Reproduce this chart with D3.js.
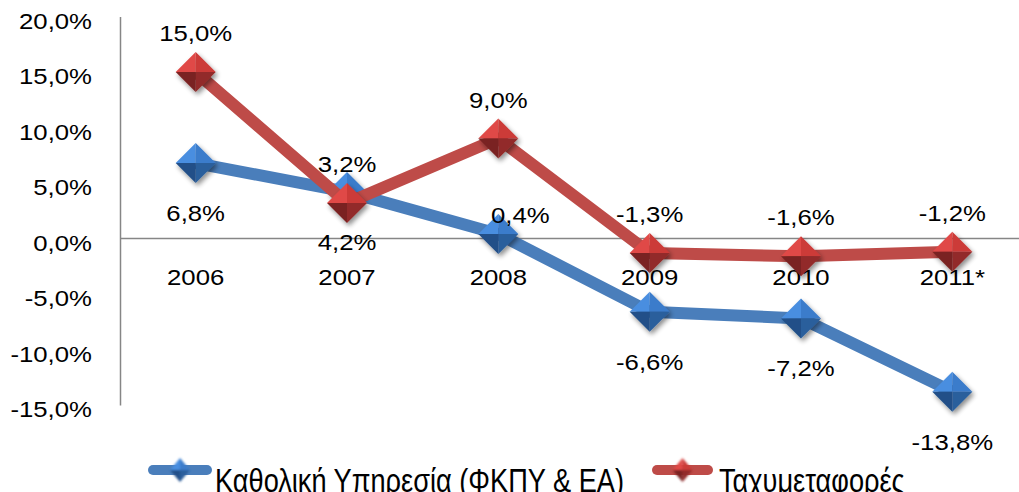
<!DOCTYPE html>
<html><head><meta charset="utf-8">
<script src="https://cdn.jsdelivr.net/npm/d3@7"></script>
<style>
html,body{margin:0;padding:0;background:#fff;}
svg{display:block;}
text{font-family:"Liberation Sans",Arial,sans-serif;fill:#000;}
</style></head>
<body>
<svg id="chart" width="1019" height="492"></svg>
<script>
const categories = ["2006","2007","2008","2009","2010","2011*"];
const seriesNames = ["Καθολική Υπηρεσία (ΦΚΠΥ & ΕΑ)","Ταχυμεταφορές"];
const blueValues = [6.8, 4.2, 0.4, -6.6, -7.2, -13.8];
const redValues = [15.0, 3.2, 9.0, -1.3, -1.6, -1.2];
const yTicks = [20, 15, 10, 5, 0, -5, -10, -15];

const svg = d3.select("#chart");
const W = 1019, H = 492;
const x = d3.scaleBand().domain(categories).range([120, 1028]);
const y = d3.scaleLinear().domain([-15, 20]).range([405, 16.5]);
const fmt = v => d3.format(".1f")(v).replace(".", ",").replace("\u2212", "-") + "%";
const FS = 23, SX = 1.12;

const defs = svg.append("defs");
const f = defs.append("filter").attr("id","sh").attr("x","-50%").attr("y","-50%").attr("width","200%").attr("height","200%");
f.append("feGaussianBlur").attr("in","SourceAlpha").attr("stdDeviation",2.5).attr("result","b");
f.append("feOffset").attr("in","b").attr("dx",1.5).attr("dy",3).attr("result","o");
f.append("feComponentTransfer").attr("in","o").attr("result","o2").append("feFuncA").attr("type","linear").attr("slope",0.45);
const m = f.append("feMerge"); m.append("feMergeNode").attr("in","o2"); m.append("feMergeNode").attr("in","SourceGraphic");
const fb = defs.append("filter").attr("id","blur1").attr("x","-50%").attr("y","-50%").attr("width","200%").attr("height","200%");
fb.append("feGaussianBlur").attr("stdDeviation",1.2);

function txt(g, tx, ty, s, anchor){
  return g.append("text").attr("transform",`translate(${tx},${ty}) scale(${SX},1)`)
    .attr("text-anchor",anchor||"middle").attr("dy","0.35em").style("font-size",FS+"px").text(s);
}

// axis
const yAxis = d3.axisLeft(y).tickValues(yTicks).tickSize(0).tickFormat(()=>"");
const ag = svg.append("g").attr("transform","translate(120,0)").call(yAxis);
ag.select(".domain").attr("stroke","#868686").attr("stroke-width",1.5);
yTicks.forEach(t => txt(svg, 92, y(t)+4, fmt(t), "end"));
// zero line
svg.append("line").attr("x1",120).attr("x2",W).attr("y1",y(0)).attr("y2",y(0)).attr("stroke","#868686").attr("stroke-width",1.5);
// category labels
categories.forEach(c => txt(svg, x(c)+x.bandwidth()/2, y(0)+38, c));

const cx = c => x(c)+x.bandwidth()/2;
const palettes = {
  blue:{line:"#4a7ebb", tl:"#4a8ee0", tr:"#3b7ccb", bl:"#214f88", br:"#2b5e9c"},
  red:{line:"#be4b48", tl:"#e04a47", tr:"#cc3a38", bl:"#7a2321", br:"#922b29"}
};
function diamond(g, px, py, rx, ry, p, filt){
  const d = g.append("g").attr("filter",filt||"url(#sh)");
  d.append("path").attr("d",`M${px-rx},${py}L${px},${py-ry}L${px},${py}Z`).attr("fill",p.tl);
  d.append("path").attr("d",`M${px},${py-ry}L${px+rx},${py}L${px},${py}Z`).attr("fill",p.tr);
  d.append("path").attr("d",`M${px+rx},${py}L${px},${py+ry}L${px},${py}Z`).attr("fill",p.br);
  d.append("path").attr("d",`M${px},${py+ry}L${px-rx},${py}L${px},${py}Z`).attr("fill",p.bl);
}
const line = d3.line().x((d,i)=>cx(categories[i])).y(d=>y(d));
function series(vals, p){
  const g = svg.append("g");
  g.append("path").datum(vals).attr("d",line).attr("fill","none").attr("stroke",p.line).attr("stroke-width",12).attr("stroke-linejoin","round");
  vals.forEach((v,i)=>diamond(g, cx(categories[i]), y(v), 20, 20, p));
}
series(blueValues, palettes.blue);
series(redValues, palettes.red);

// data labels
const lg = svg.append("g");
blueValues.forEach((v,i)=>{
  let dx = 0, dy = 50;
  if (i===2){ dx = 22; dy = -19; }
  txt(lg, cx(categories[i])+dx, y(v)+dy, fmt(v));
});
redValues.forEach((v,i)=>{
  txt(lg, cx(categories[i]), y(v)-39, fmt(v));
});

// legend
const leg = svg.append("g");
const legItems = [{x1:148, x2:212, tx:215, p:palettes.blue, name:seriesNames[0]},{x1:652, x2:713, tx:719, p:palettes.red, name:seriesNames[1]}];
legItems.forEach(it=>{
  leg.append("line").attr("x1",it.x1+5).attr("x2",it.x2-5).attr("y1",470).attr("y2",470).attr("stroke",it.p.line).attr("stroke-width",10).attr("stroke-linecap","round");
  diamond(leg, (it.x1+it.x2)/2, 470, 10, 12, it.p, "url(#blur1)");
  leg.append("text").attr("transform",`translate(${it.tx},${492}) scale(0.8,1)`).style("font-size","34px").text(it.name);
});
</script>
</body></html>
